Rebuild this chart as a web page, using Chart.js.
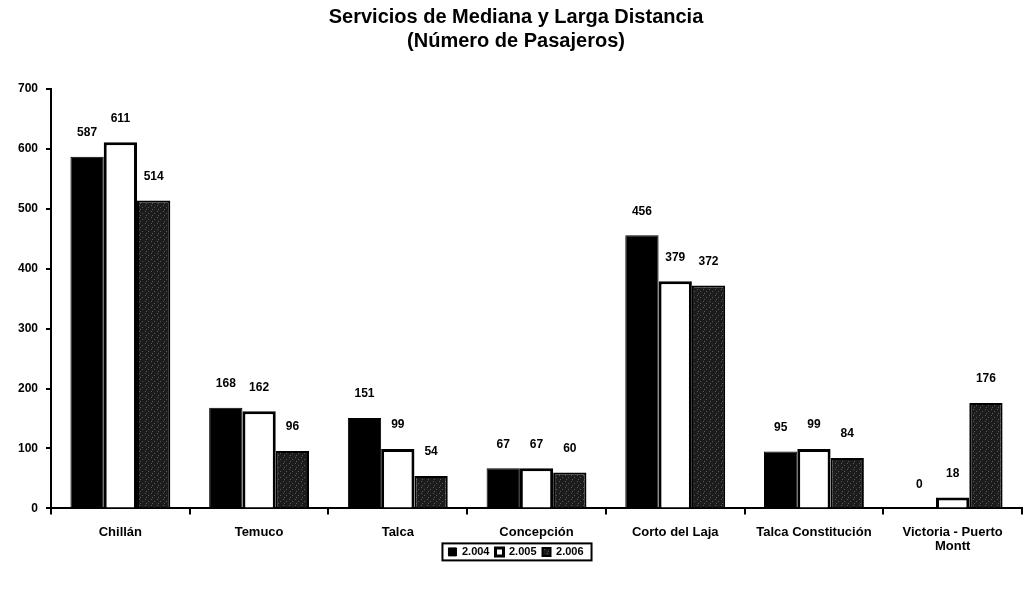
<!DOCTYPE html>
<html>
<head>
<meta charset="utf-8">
<script src="https://cdn.jsdelivr.net/npm/chart.js@4/dist/chart.umd.min.js"></script>
<style>
  html, body { margin: 0; padding: 0; background: #fff; }
  #wrap { width: 1030px; height: 592px; }
</style>
</head>
<body>
<div id="wrap"><canvas id="grafico"></canvas></div>
<script>
const categorias = ['Chillán', 'Temuco', 'Talca', 'Concepción', 'Corto del Laja', 'Talca Constitución', ['Victoria - Puerto', 'Montt']];
const serie2004 = [587, 168, 151, 67, 456, 95, 0];
const serie2005 = [611, 162, 99, 67, 379, 99, 18];
const serie2006 = [514, 96, 54, 60, 372, 84, 176];
const ticksY = [0, 100, 200, 300, 400, 500, 600, 700];

const fuente = 'Liberation Sans, Arial, sans-serif';

// relleno punteado oscuro para la serie 2.006 (como en la impresion)
function tramaOscura() {
    const c = document.createElement('canvas');
    c.width = 6; c.height = 6;
    const g = c.getContext('2d');
    g.fillStyle = '#1c1c1c';
    g.fillRect(0, 0, 6, 6);
    g.fillStyle = '#5a5a5a';
    g.fillRect(1, 1, 1, 1);
    g.fillRect(4, 3, 1, 1);
    g.fillRect(2, 5, 1, 1);
    return g.createPattern(c, 'repeat');
}

// etiquetas de valor encima de cada barra
const etiquetas = {
    id: 'etiquetas',
    afterDatasetsDraw(chart) {
        const ctx = chart.ctx;
        ctx.save();
        ctx.font = 'bold 12px ' + fuente;
        ctx.fillStyle = '#000';
        ctx.textAlign = 'center';
        ctx.textBaseline = 'bottom';
        chart.data.datasets.forEach((ds, i) => {
            chart.getDatasetMeta(i).data.forEach((bar, j) => {
                ctx.fillText(ds.data[j], bar.x, bar.y - 18);
            });
        });
        ctx.restore();
    }
};

// la leyenda sube hasta quedar junto a las etiquetas del eje, y lleva marco
const marcoLeyenda = {
    id: 'marcoLeyenda',
    afterLayout(chart) {
        const ley = chart.legend;
        const d = ley.top - (chart.chartArea.bottom + 32);
        ley.top -= d;
        ley.bottom -= d;
    },
    afterDraw(chart) {
        const cajas = chart.legend.legendHitBoxes;
        if (!cajas || !cajas.length) return;
        let x0 = Math.min(...cajas.map(c => c.left)) - 6;
        let x1 = Math.max(...cajas.map(c => c.left + c.width)) + 8;
        let y0 = Math.min(...cajas.map(c => c.top)) - 3;
        let y1 = Math.max(...cajas.map(c => c.top + c.height)) + 3;
        const ctx = chart.ctx;
        ctx.save();
        ctx.strokeStyle = '#000';
        ctx.lineWidth = 2;
        ctx.strokeRect(x0, y0, x1 - x0, y1 - y0);
        ctx.restore();
    }
};

new Chart(document.getElementById('grafico'), {
    type: 'bar',
    data: {
        labels: categorias,
        datasets: [
            { label: '2.004', data: serie2004, backgroundColor: '#000', borderColor: '#000', borderWidth: 1 },
            { label: '2.005', data: serie2005, backgroundColor: '#fff', borderColor: '#000', borderWidth: 3 },
            { label: '2.006', data: serie2006, backgroundColor: tramaOscura(), borderColor: '#000', borderWidth: 2 }
        ]
    },
    options: {
        responsive: true,
        maintainAspectRatio: false,
        animation: false,
        devicePixelRatio: 1,
        datasets: { bar: { categoryPercentage: 0.72, barPercentage: 1.0 } },
        layout: { padding: { left: 10, right: 8, top: 2, bottom: 0 } },
        plugins: {
            title: {
                display: true,
                text: ['Servicios de Mediana y Larga Distancia', '(Número de Pasajeros)'],
                color: '#000',
                font: { family: fuente, size: 20, weight: 'bold' },
                lineHeight: 1.15,
                padding: { top: 3, bottom: 36 }
            },
            legend: {
                position: 'bottom',
                labels: {
                    color: '#000',
                    font: { family: fuente, size: 11, weight: 'bold' },
                    boxWidth: 8,
                    boxHeight: 8,
                    padding: 6
                }
            },
            tooltip: { enabled: false }
        },
        scales: {
            x: {
                offset: true,
                border: { color: '#000', width: 2 },
                grid: { offset: true, drawOnChartArea: false, drawTicks: true, tickLength: 6, color: '#000', lineWidth: 2 },
                ticks: { color: '#000', font: { family: fuente, size: 13, weight: 'bold', lineHeight: 1.1 }, maxRotation: 0, autoSkip: false, padding: 11 }
            },
            y: {
                min: 0,
                max: 700,
                afterBuildTicks(axis) { axis.ticks = ticksY.map(v => ({ value: v })); },
                border: { color: '#000', width: 2 },
                grid: { drawOnChartArea: false, drawTicks: true, tickLength: 5, color: '#000', lineWidth: 2 },
                ticks: { color: '#000', font: { family: fuente, size: 12, weight: 'bold' }, padding: 8 }
            }
        }
    },
    plugins: [etiquetas, marcoLeyenda]
});
</script>
</body>
</html>
